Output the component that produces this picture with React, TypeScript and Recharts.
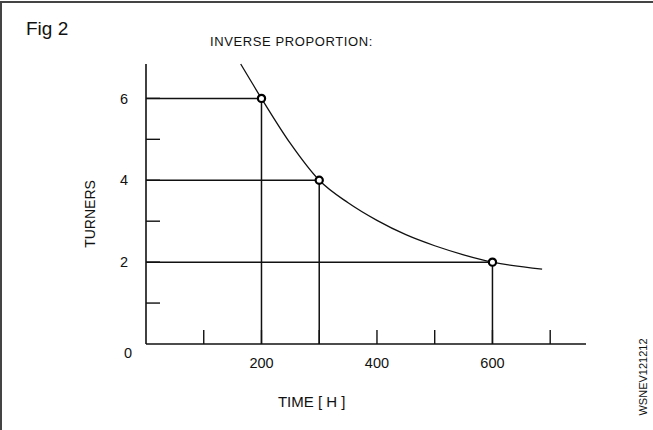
import React from "react";
import {
  ComposedChart,
  Line,
  ReferenceLine,
  Scatter,
  XAxis,
  YAxis,
} from "recharts";

// curve (time in hours, number of turners)
const curveTime = [164, 200, 250, 300, 350, 400, 450, 500, 550, 600, 686];
const curveTurners = [6.84, 6, 4.9, 4, 3.45, 3.02, 2.67, 2.4, 2.18, 2, 1.83];

// the three marked points
const pointTime = [200, 300, 600];
const pointTurners = [6, 4, 2];

const xTicks = [100, 200, 300, 400, 500, 600, 700];
const xLabels = [200, 400, 600];
const yTicks = [0, 1, 2, 3, 4, 5, 6];
const yLabels = [0, 2, 4, 6];

const curveData = curveTime.map((t, i) => ({ time: t, turners: curveTurners[i] }));
const pointData = pointTime.map((t, i) => ({ time: t, turners: pointTurners[i] }));

const FONT = "'Liberation Sans', Arial, Helvetica, sans-serif";
const INK = "#111";

const YTick = (props: any) => {
  const { x, y, payload } = props;
  const v = payload.value;
  const isZero = v === 0;
  return (
    <g>
      {v > 0 ? <line x1={x} x2={x + 14} y1={y} y2={y} stroke={INK} strokeWidth={1.4} /> : null}
      {yLabels.includes(v) ? (
        <text
          x={isZero ? x - 14 : x - 18}
          y={isZero ? y + 9 : y}
          dy="0.36em"
          textAnchor="end"
          fontFamily={FONT}
          fontSize={14.5}
          fill={INK}
        >
          {v}
        </text>
      ) : null}
    </g>
  );
};

const XTick = (props: any) => {
  const { x, y, payload } = props;
  const v = payload.value;
  return (
    <g>
      <line x1={x} x2={x} y1={y} y2={y - 14} stroke={INK} strokeWidth={1.4} />
      {xLabels.includes(v) ? (
        <text x={x} y={y + 19} dy="0.36em" textAnchor="middle" fontFamily={FONT} fontSize={14.5} fill={INK}>
          {v}
        </text>
      ) : null}
    </g>
  );
};

const Marker = (props: any) => (
  <circle cx={props.cx} cy={props.cy} r={3.6} fill="#fff" stroke="#000" strokeWidth={2.2} />
);

export default function App() {
  return (
    <div style={{ position: "relative", width: 653, height: 430, background: "#fff", overflow: "hidden" }}>
      <style>{`body{margin:0}`}</style>
      <div
        style={{
          position: "absolute",
          left: 0,
          top: 1,
          width: 653,
          height: 429,
          borderTop: "2px solid #444",
          borderLeft: "2px solid #444",
          boxSizing: "border-box",
        }}
      />
      <div style={{ position: "absolute", left: 0, top: 0 }}>
        <ComposedChart
          width={653}
          height={430}
          data={curveData}
          margin={{ top: 64, right: 67, bottom: 46, left: 100 }}
        >
          <XAxis
            type="number"
            dataKey="time"
            domain={[0, 762]}
            ticks={xTicks}
            interval={0}
            height={40}
            tickSize={0}
            tickMargin={0}
            tickLine={false}
            tick={<XTick />}
            axisLine={{ stroke: INK, strokeWidth: 1.6 }}
          />
          <YAxis
            type="number"
            dataKey="turners"
            domain={[0, 6.84]}
            ticks={yTicks}
            interval={0}
            width={46}
            tickSize={0}
            tickMargin={0}
            tickLine={false}
            tick={<YTick />}
            axisLine={{ stroke: INK, strokeWidth: 1.6 }}
          />
          {pointData.map((p) => (
            <ReferenceLine
              key={`h${p.time}`}
              segment={[
                { x: 0, y: p.turners },
                { x: p.time, y: p.turners },
              ]}
              stroke={INK}
              strokeWidth={1.5}
            />
          ))}
          {pointData.map((p) => (
            <ReferenceLine
              key={`v${p.time}`}
              segment={[
                { x: p.time, y: 0 },
                { x: p.time, y: p.turners },
              ]}
              stroke={INK}
              strokeWidth={1.5}
            />
          ))}
          <Line
            type="monotone"
            dataKey="turners"
            stroke={INK}
            strokeWidth={1.3}
            dot={false}
            activeDot={false}
            isAnimationActive={false}
          />
          <Scatter data={pointData} shape={<Marker />} isAnimationActive={false} />
        </ComposedChart>
      </div>
      <svg width={653} height={430} style={{ position: "absolute", left: 0, top: 0, pointerEvents: "none" }}>
        <text x={26} y={35} fontFamily={FONT} fontSize={19} fill={INK}>
          Fig 2
        </text>
        <text x={291.5} y={46} textAnchor="middle" fontFamily={FONT} fontSize={13} letterSpacing={0.6} fill={INK}>
          INVERSE PROPORTION:
        </text>
        <text
          x={95}
          y={214}
          textAnchor="middle"
          transform="rotate(-90 95 214)"
          fontFamily={FONT}
          fontSize={14}
          fill={INK}
        >
          TURNERS
        </text>
        <text x={311.7} y={406.5} textAnchor="middle" fontFamily={FONT} fontSize={15} fill={INK}>
          TIME [ H ]
        </text>
        <text
          x={647}
          y={377}
          textAnchor="middle"
          transform="rotate(-90 647 377)"
          fontFamily={FONT}
          fontSize={11}
          fill={INK}
        >
          WSNEV121212
        </text>
      </svg>
    </div>
  );
}
